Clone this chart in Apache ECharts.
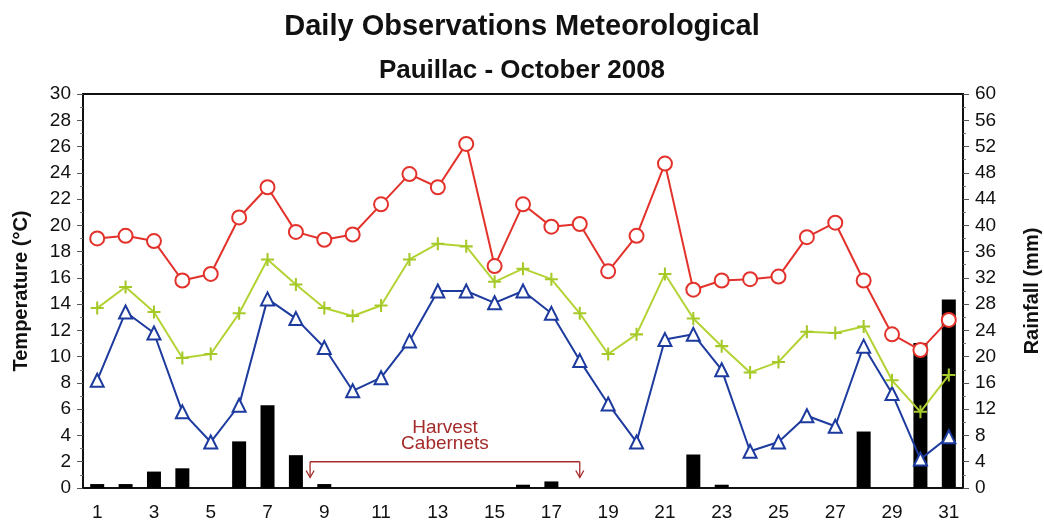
<!DOCTYPE html>
<html>
<head>
<meta charset="utf-8">
<script src="https://cdn.jsdelivr.net/npm/echarts@6/dist/echarts.min.js"></script>
<style>
  html, body { margin: 0; padding: 0; background: #fff; }
  #chart { width: 1044px; height: 524px; }
</style>
</head>
<body>
<div id="chart"></div>
<script>
  const days = Array.from({ length: 31 }, (_, i) => String(i + 1));
  const tMax = [19.0, 19.2, 18.8, 15.8, 16.3, 20.6, 22.9, 19.5, 18.9, 19.3, 21.6, 23.9, 22.9, 26.2, 16.9, 21.6,
    19.9, 20.1, 16.5, 19.2, 24.7, 15.1, 15.8, 15.9, 16.1, 19.1, 20.2, 15.8, 11.7, 10.5, 12.8];
  const tMean = [13.7, 15.3, 13.4, 9.9, 10.2, 13.3, 17.4, 15.5, 13.7, 13.1, 13.9, 17.4, 18.6, 18.4, 15.7, 16.7,
    15.9, 13.3, 10.2, 11.7, 16.3, 12.9, 10.8, 8.8, 9.6, 11.9, 11.8, 12.3, 8.2, 5.8, 8.6];
  const tMin = [8.2, 13.4, 11.8, 5.8, 3.5, 6.3, 14.4, 12.9, 10.7, 7.4, 8.4, 11.2, 15.0, 15.0, 14.1, 15.0,
    13.3, 9.7, 6.4, 3.5, 11.3, 11.7, 9.0, 2.8, 3.5, 5.5, 4.7, 10.8, 7.2, 2.2, 3.9];
  const rain = [0.6, 0.6, 2.5, 3.0, 0, 7.1, 12.6, 5.0, 0.6, 0, 0, 0, 0, 0, 0, 0.5,
    1.0, 0, 0, 0, 0, 5.1, 0.5, 0, 0, 0, 0, 8.6, 0, 22.1, 28.7];
  // harvest period: from between day 8 and 9 to day 18
  const harvestStart = 8;
  const harvestEnd = 18;

  const FONT = "Liberation Sans, Arial, sans-serif";
  const plus = "path://M4.2,0H5.8V4.2H10V5.8H5.8V10H4.2V5.8H0V4.2H4.2Z";

  const myChart = echarts.init(document.getElementById("chart"));
  const option = {
    animation: false,
    backgroundColor: "#fff",
    textStyle: { fontFamily: FONT },
    title: [
      {
        text: "Daily Observations Meteorological",
        left: "center", top: 7,
        textStyle: { fontSize: 29, fontWeight: "bold", color: "#111", fontFamily: FONT },
      },
      {
        text: "Pauillac - October 2008",
        left: "center", top: 53,
        textStyle: { fontSize: 26, fontWeight: "bold", color: "#111", fontFamily: FONT },
      },
    ],
    grid: {
      left: 83, right: 81, top: 94, bottom: 36,
      containLabel: false, outerBoundsMode: "none",
      show: true, borderColor: "#111", borderWidth: 2, backgroundColor: "transparent",
    },
    xAxis: {
      type: "category",
      data: days,
      axisLine: { lineStyle: { color: "#111", width: 2 } },
      axisTick: { interval: 0, length: 5, lineStyle: { color: "#555" } },
      axisLabel: { interval: 1, fontSize: 19, color: "#111", margin: 15 },
    },
    yAxis: [
      {
        type: "value", min: 0, max: 30, interval: 2,
        name: "Temperature (°C)", nameLocation: "middle", nameGap: 52, nameRotate: 90,
        nameTextStyle: { fontSize: 20, fontWeight: "bold", color: "#111" },
        axisLine: { show: true, lineStyle: { color: "#111", width: 2 } },
        axisTick: { show: true, length: 6, lineStyle: { color: "#555" } },
        minorTick: { show: true, splitNumber: 2, length: 3, lineStyle: { color: "#777" } },
        axisLabel: { fontSize: 19, color: "#111", margin: 12 },
        splitLine: { show: false },
      },
      {
        type: "value", min: 0, max: 60, interval: 4, position: "right",
        name: "Rainfall (mm)", nameLocation: "middle", nameGap: 59, nameRotate: 90,
        nameTextStyle: { fontSize: 20, fontWeight: "bold", color: "#111" },
        axisLine: { show: true, lineStyle: { color: "#111", width: 2 } },
        axisTick: { show: true, length: 6, lineStyle: { color: "#555" } },
        minorTick: { show: true, splitNumber: 2, length: 3, lineStyle: { color: "#777" } },
        axisLabel: { fontSize: 19, color: "#111", margin: 12 },
        splitLine: { show: false },
      },
    ],
    series: [
      {
        name: "Rainfall", type: "bar", yAxisIndex: 1, data: rain,
        barWidth: 14, itemStyle: { color: "#000" }, z: 1,
      },
      {
        name: "Min", type: "line", data: tMin, z: 3,
        symbol: "emptyTriangle", symbolSize: 13,
        lineStyle: { color: "#1d3a9e", width: 2 },
        itemStyle: { color: "#1d3a9e", borderWidth: 2 },
      },
      {
        name: "Mean", type: "line", data: tMean, z: 3,
        symbol: plus, symbolSize: 13,
        lineStyle: { color: "#b3d334", width: 2 },
        itemStyle: { color: "#a6c92a" },
      },
      {
        name: "Max", type: "line", data: tMax, z: 3,
        symbol: "emptyCircle", symbolSize: 14,
        lineStyle: { color: "#e3322b", width: 2 },
        itemStyle: { color: "#e3322b", borderWidth: 2 },
      },
    ],
  };
  myChart.setOption(option);

  // Harvest bracket, placed through the axes
  const px = (d, v) => myChart.convertToPixel({ xAxisIndex: 0, yAxisIndex: 0 }, [d - 1, v]);
  const a = px(harvestStart, 2.0), b = px(harvestStart + 1, 2.0), c = px(harvestEnd, 2.0);
  const x1 = (a[0] + b[0]) / 2, x2 = c[0], yLine = a[1];
  const yTip = px(harvestEnd, 0.8)[1];
  const red = "#a52a2a";
  const arrow = (x) => [
    { type: "line", shape: { x1: x, y1: yLine, x2: x, y2: yTip }, style: { stroke: red, lineWidth: 1.3 } },
    { type: "polyline", shape: { points: [[x - 4, yTip - 7], [x, yTip], [x + 4, yTip - 7]] },
      style: { stroke: red, lineWidth: 1.3, fill: null } },
  ];
  myChart.setOption({
    graphic: [
      { type: "line", shape: { x1: x1, y1: yLine, x2: x2, y2: yLine }, style: { stroke: red, lineWidth: 1.3 } },
      ...arrow(x1),
      ...arrow(x2),
      {
        type: "text", x: (x1 + x2) / 2, y: yLine - 42,
        style: {
          text: "Harvest\nCabernets", fill: red, font: "19px " + FONT,
          align: "center", lineHeight: 16,
        },
      },
    ],
  });
</script>
</body>
</html>
